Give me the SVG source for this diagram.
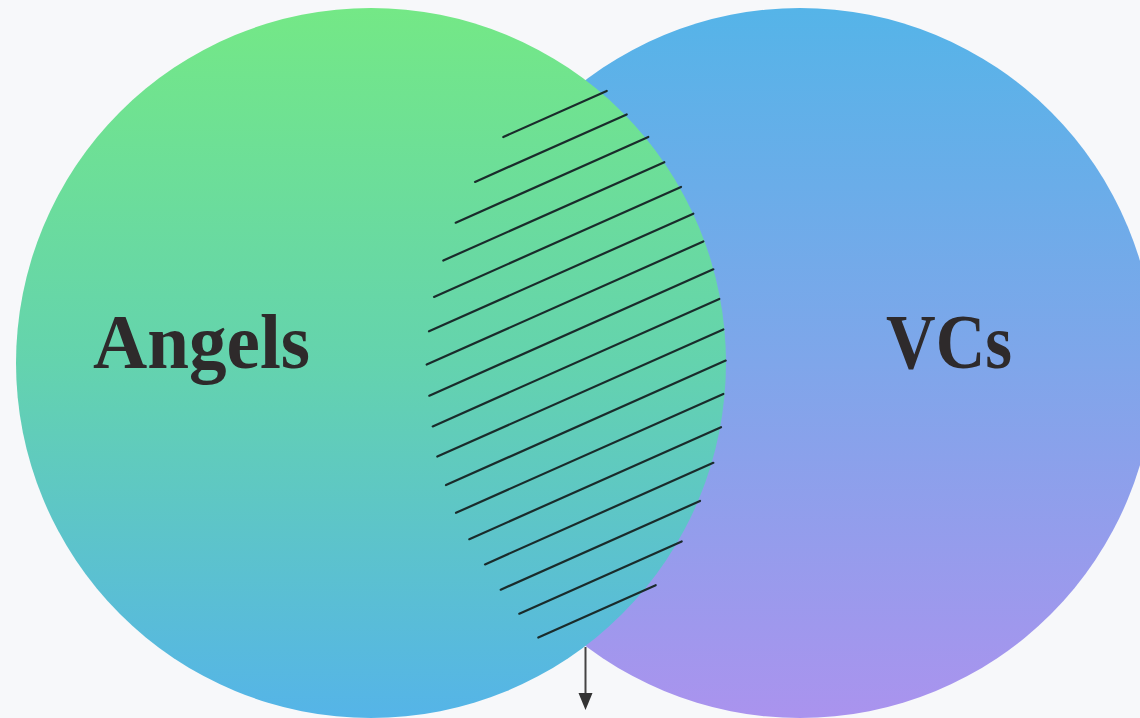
<svg xmlns="http://www.w3.org/2000/svg" width="1140" height="718" viewBox="0 0 1140 718">
  <defs>
    <linearGradient id="gLeft" x1="0" y1="0" x2="0" y2="1">
      <stop offset="0" stop-color="#74e886"/>
      <stop offset="0.5" stop-color="#64d3ae"/>
      <stop offset="1" stop-color="#55b4e8"/>
    </linearGradient>
    <linearGradient id="gRight" x1="0" y1="0" x2="0" y2="1">
      <stop offset="0" stop-color="#55b4e8"/>
      <stop offset="0.5" stop-color="#7fa6ea"/>
      <stop offset="1" stop-color="#aa93ee"/>
    </linearGradient>
    <style>
      .label { font-family: "Liberation Serif", "DejaVu Serif", serif; font-weight: bold; font-size: 78px; fill: #2e2a2b; }
      .hatch line { stroke: #1a2b2b; stroke-width: 2.2; stroke-linecap: round; }
      .conn { stroke: #444444; stroke-width: 2; fill: none; }
      .head { fill: #333333; }
    </style>
  </defs>
  <rect x="0" y="0" width="1140" height="718" fill="#f7f8fa"/>

  <g id="node-vcs">
    <circle cx="800" cy="363" r="355" fill="url(#gRight)"/>
    <text class="label" x="886" y="368" textLength="126" lengthAdjust="spacingAndGlyphs">VCs</text>
  </g>

  <g id="node-angels">
    <circle cx="371" cy="363" r="355" fill="url(#gLeft)"/>
    <text class="label" x="93" y="368" textLength="217" lengthAdjust="spacingAndGlyphs">Angels</text>
  </g>

  <g id="overlap-hatch" class="hatch">
    <line x1="503.3" y1="137.0" x2="606.7" y2="91.0"/>
    <line x1="475.0" y1="181.9" x2="626.7" y2="114.4"/>
    <line x1="455.7" y1="222.7" x2="648.3" y2="137.0"/>
    <line x1="443.3" y1="260.5" x2="664.3" y2="162.2"/>
    <line x1="434.0" y1="296.9" x2="681.0" y2="187.0"/>
    <line x1="429.0" y1="331.3" x2="693.3" y2="213.7"/>
    <line x1="426.7" y1="364.6" x2="703.3" y2="241.5"/>
    <line x1="429.3" y1="395.7" x2="713.3" y2="269.3"/>
    <line x1="432.7" y1="426.4" x2="719.3" y2="298.9"/>
    <line x1="437.3" y1="456.6" x2="723.3" y2="329.4"/>
    <line x1="446.0" y1="485.0" x2="725.7" y2="360.6"/>
    <line x1="456.0" y1="512.8" x2="723.3" y2="393.9"/>
    <line x1="469.3" y1="539.2" x2="721.0" y2="427.2"/>
    <line x1="485.0" y1="564.4" x2="713.3" y2="462.8"/>
    <line x1="500.7" y1="589.7" x2="700.0" y2="501.0"/>
    <line x1="519.3" y1="613.7" x2="681.7" y2="541.4"/>
    <line x1="538.3" y1="637.5" x2="655.7" y2="585.2"/>
  </g>

  <g id="connectors">
    <line class="conn" x1="585.5" y1="647" x2="585.5" y2="695"/>
    <path class="head" d="M578.5,693 L592.5,693 L585.5,710 Z"/>
  </g>
</svg>
